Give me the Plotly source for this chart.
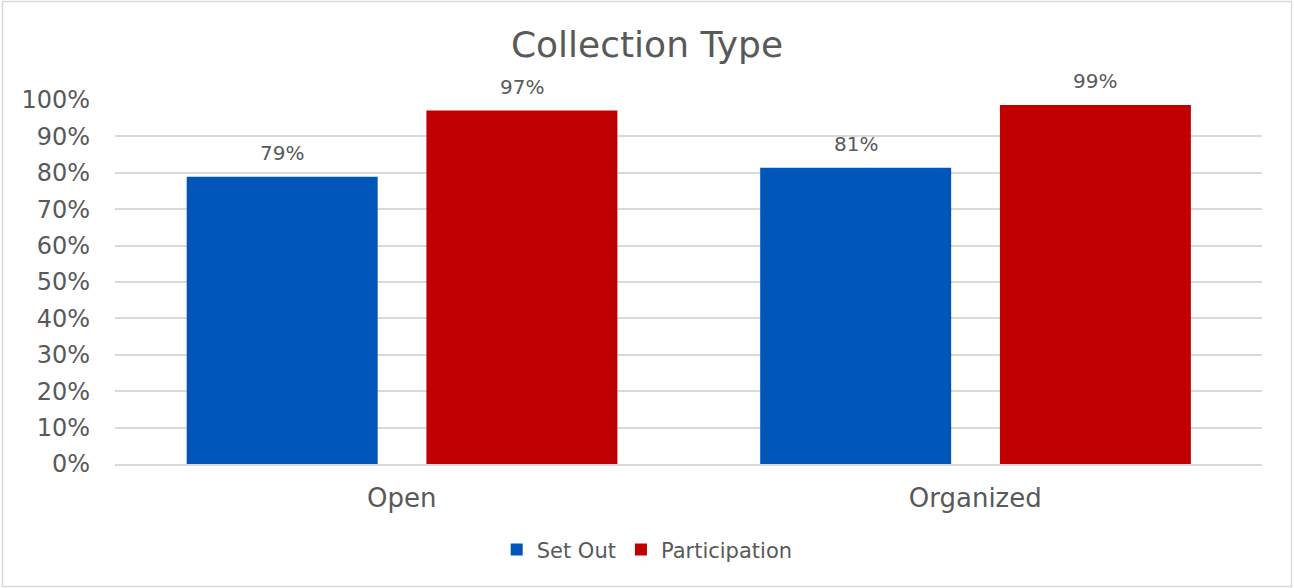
import plotly.graph_objects as go

categories = ["Open", "Organized"]
set_out = [0.789, 0.814]
participation = [0.971, 0.986]
series_names = ["Set Out", "Participation"]
tick_values = [0, 0.1, 0.2, 0.3, 0.4, 0.5, 0.6, 0.7, 0.8, 0.9, 1.0]

TEXT = "#595959"
FONT = "DejaVu Sans"

# bar placement within each category slot (category units)
BAR_W = 0.333
OFFSETS = [-0.375, 0.043]
COLORS = ["#0056b8", "#c00000"]

fig = go.Figure()
for name, values, off, color in zip(series_names, [set_out, participation], OFFSETS, COLORS):
    fig.add_trace(go.Bar(
        x=categories, y=values, name=name,
        marker=dict(color=color, line=dict(width=0)),
        width=BAR_W, offset=off, hoverinfo="x+y+name",
    ))
    # value labels above each bar
    for i, v in enumerate(values):
        fig.add_annotation(
            x=i + off + BAR_W / 2, y=v, xref="x", yref="y",
            text=f"{v:.0%}", showarrow=False,
            yanchor="bottom", yshift=10,
            font=dict(size=20, color=TEXT, family=FONT),
        )

# light frame around the whole chart
fig.add_shape(type="rect", xref="paper", yref="paper",
              x0=-0.0981, x1=1.0257, y0=-0.3365, y1=1.2706,
              line=dict(color="#d9d9d9", width=1.5), fillcolor="rgba(0,0,0,0)", layer="below")

fig.update_layout(
    width=1294, height=588,
    margin=dict(l=115, r=32, t=100, b=124),
    paper_bgcolor="white", plot_bgcolor="white",
    font=dict(family=FONT, color=TEXT),
    title=dict(text="Collection Type", x=0.5, xref="container", xanchor="center",
               y=1 - 44 / 588, yref="container", yanchor="middle",
               font=dict(size=36, color=TEXT, family=FONT)),
    barmode="group",
    showlegend=True,
    legend=dict(orientation="h", x=0.464, xanchor="center", y=-0.236, yanchor="middle",
                font=dict(size=21, color=TEXT, family=FONT), itemwidth=30,
                traceorder="normal"),
    xaxis=dict(showline=True, linecolor="#d9d9d9", linewidth=1.5, ticks="",
               tickfont=dict(size=26, color=TEXT, family=FONT), ticklabelstandoff=10),
    yaxis=dict(range=[0, 1], tickvals=tick_values, tickformat=".0%",
               showgrid=True, gridcolor="#d9d9d9", gridwidth=1.5,
               zeroline=False, ticks="", ticklabelstandoff=24,
               tickfont=dict(size=24, color=TEXT, family=FONT)),
)

fig.write_html("out.html")
